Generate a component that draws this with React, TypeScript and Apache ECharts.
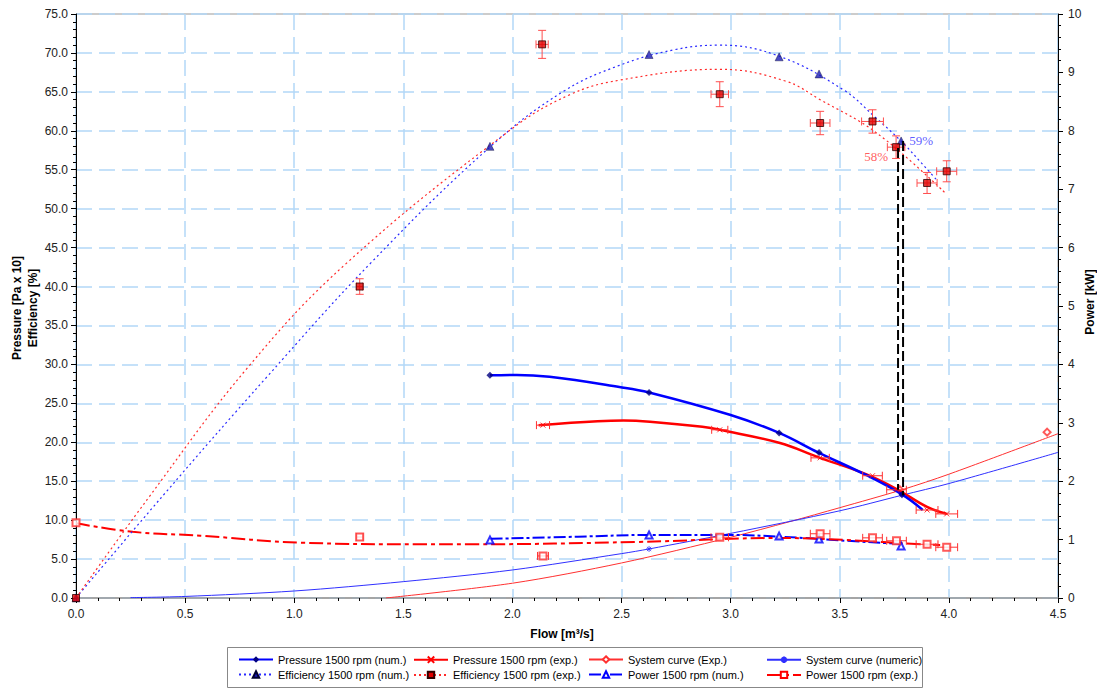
import React, { useEffect, useRef } from 'react';
import * as echarts from 'echarts';

// ---------- data ----------
// Pressure, numerical (fit curve + computed points)
const pressNumFitX = [1.897, 2.02, 2.17, 2.49, 2.626, 3.0, 3.222, 3.4, 3.62, 3.785, 3.88];
const pressNumFitY = [28.6, 28.65, 28.4, 27.1, 26.4, 23.5, 21.2, 18.7, 15.8, 13.3, 11.3];
const pressNumPtX = [1.897, 2.626, 3.222, 3.405, 3.785];
const pressNumPtY = [28.6, 26.4, 21.2, 18.7, 13.3];

// Pressure, experimental
const pressExpFitX = [2.12, 2.39, 2.51, 2.63, 2.87, 2.95, 3.226, 3.4, 3.62, 3.76, 3.9, 3.99];
const pressExpFitY = [22.2, 22.7, 22.8, 22.65, 22.0, 21.6, 19.9, 18.1, 15.9, 14.0, 11.7, 10.8];
const pressExpPtX = [2.14, 2.95, 3.41, 3.65, 3.76, 3.9, 3.99];
const pressExpPtY = [22.2, 21.6, 18.0, 15.7, 13.9, 11.3, 10.8];
const pressExpErrX = [0.03, 0.037, 0.042, 0.045, 0.045, 0.05, 0.05];

// System curves
const sysExpX = [1.42, 2.0, 2.5, 3.0, 3.27, 3.5, 3.785, 4.0, 4.5];
const sysExpY = [0, 1.9, 4.5, 7.8, 9.8, 11.6, 13.9, 15.9, 21.1];
const sysExpPtX = [3.775, 4.45];
const sysExpPtY = [13.9, 21.3];
const sysNumX = [0.25, 0.5, 1.0, 1.5, 2.0, 2.5, 2.626, 3.0, 3.5, 3.785, 4.0, 4.5];
const sysNumY = [0.05, 0.2, 0.9, 2.1, 3.6, 5.7, 6.3, 8.3, 11.2, 13.2, 14.7, 18.7];
const sysNumPtX = [2.626, 3.785];
const sysNumPtY = [6.3, 13.2];

// Efficiency, numerical
const effNumFitX = [0, 0.4, 0.875, 1.35, 1.9, 2.23, 2.49, 2.74, 2.95, 3.22, 3.52, 3.66, 3.78, 3.87, 3.95];
const effNumFitY = [0, 13.2, 28.4, 43.0, 58.0, 65.0, 68.4, 70.4, 71.0, 69.6, 65.2, 61.8, 58.7, 56.0, 53.5];
const effNumPtX = [0, 1.897, 2.626, 3.222, 3.405, 3.781];
const effNumPtY = [0, 58.0, 69.8, 69.5, 67.3, 58.7];

// Efficiency, experimental
const effExpFitX = [0, 0.325, 0.79, 1.24, 1.99, 2.26, 2.49, 2.95, 3.25, 3.41, 3.67, 3.98];
const effExpFitY = [0, 12.6, 29.7, 43.0, 60.1, 64.6, 66.5, 67.9, 66.4, 64.0, 59.7, 52.1];
const effExpPtX = [0, 1.3, 2.136, 2.95, 3.41, 3.65, 3.758, 3.9, 3.99];
const effExpPtY = [0, 40.0, 71.1, 64.7, 61.0, 61.2, 57.9, 53.3, 54.8];
const effExpErrX = [0, 0.015, 0.028, 0.04, 0.045, 0.05, 0.04, 0.046, 0.046];
const effExpErrY = [0, 1.0, 1.8, 1.6, 1.5, 1.5, 1.45, 1.35, 1.35];

// Power [kW], numerical
const powNumFitX = [1.9, 2.3, 2.63, 3.0, 3.23, 3.53, 3.73, 3.78];
const powNumFitY = [1.013, 1.05, 1.08, 1.08, 1.05, 0.98, 0.936, 0.925];
const powNumPtX = [1.897, 2.626, 3.222, 3.405, 3.781];
const powNumPtY = [0.993, 1.08, 1.06, 1.01, 0.89];

// Power [kW], experimental
const powExpFitX = [0, 0.26, 0.57, 1.03, 1.58, 1.81, 2.57, 3.23, 3.53, 3.87, 3.96];
const powExpFitY = [1.28, 1.133, 1.067, 0.947, 0.92, 0.92, 0.96, 1.027, 0.993, 0.92, 0.907];
const powExpPtX = [0, 1.3, 2.14, 2.95, 3.41, 3.65, 3.76, 3.9, 3.99];
const powExpPtY = [1.29, 1.044, 0.72, 1.04, 1.1, 1.03, 0.98, 0.92, 0.87];
const powExpErrX = [0, 0.015, 0.025, 0.04, 0.045, 0.045, 0.045, 0.05, 0.05];

// Operating point markers (vertical dashed lines)
const opX = [3.767, 3.79];
const opTop = [57.8, 58.7];
const opBottom = [13.9, 13.2];
const opLabels = ['58%', '59%'];

// ---------- helpers ----------
const pts = (xs: number[], ys: number[]) => xs.map((x, i) => [x, ys[i]]);
const FONT = 'Liberation Sans';
const BLUE = '#0000ff';
const RED = '#ff0000';
const X_PATH = 'path://M0 0L10 10M10 0L0 10';
const STAR_PATH = 'path://M5 0L5 10M0 5L10 5M1.5 1.5L8.5 8.5M8.5 1.5L1.5 8.5';

const makeErr = (color: string, cap: number) => (_params: any, api: any) => {
  const x = api.value(0);
  const y = api.value(1);
  const ex = api.value(2);
  const ey = api.value(3);
  const st = { stroke: color, lineWidth: 1 };
  const children: any[] = [];
  if (ex > 0) {
    const a = api.coord([x - ex, y]);
    const b = api.coord([x + ex, y]);
    children.push({ type: 'line', shape: { x1: a[0], y1: a[1], x2: b[0], y2: b[1] }, style: st });
    children.push({ type: 'line', shape: { x1: a[0], y1: a[1] - cap, x2: a[0], y2: a[1] + cap }, style: st });
    children.push({ type: 'line', shape: { x1: b[0], y1: b[1] - cap, x2: b[0], y2: b[1] + cap }, style: st });
  }
  if (ey > 0) {
    const a = api.coord([x, y + ey]);
    const b = api.coord([x, y - ey]);
    children.push({ type: 'line', shape: { x1: a[0], y1: a[1], x2: b[0], y2: b[1] }, style: st });
    children.push({ type: 'line', shape: { x1: a[0] - cap, y1: a[1], x2: a[0] + cap, y2: a[1] }, style: st });
    children.push({ type: 'line', shape: { x1: b[0] - cap, y1: b[1], x2: b[0] + cap, y2: b[1] }, style: st });
  }
  return { type: 'group', children };
};

export default function App() {
  const ref = useRef<HTMLDivElement>(null);
  useEffect(() => {
    const chart = echarts.init(ref.current!, null, { renderer: 'svg' });

    const legendCommon = {
      orient: 'vertical',
      top: 654,
      height: 34,
      padding: 0,
      itemWidth: 34,
      itemHeight: 8,
      itemGap: 4,
      selectedMode: false,
      textStyle: { fontFamily: FONT, fontSize: 11, color: '#000' },
    };

    const effNumPts = pts(effNumPtX, effNumPtY).map((p, i) =>
      i === effNumPtX.length - 1
        ? {
            value: p,
            label: {
              show: true,
              formatter: opLabels[1],
              position: 'right',
              distance: 4,
              color: '#3333ff',
              fontFamily: 'Liberation Serif',
              fontSize: 13,
            },
          }
        : { value: p }
    );
    const effExpPts = pts(effExpPtX, effExpPtY).map((p, i) =>
      i === 6
        ? {
            value: p,
            label: {
              show: true,
              formatter: opLabels[0],
              position: 'left',
              distance: 4,
              offset: [0, 9],
              color: '#ff3333',
              fontFamily: 'Liberation Serif',
              fontSize: 13,
            },
          }
        : { value: p }
    );

    const option: any = {
      animation: false,
      backgroundColor: '#fff',
      grid: { left: 76, right: 39, top: 14, bottom: 91, show: true, borderColor: '#999', borderWidth: 1 },
      legend: [
        { ...legendCommon, left: 238, data: ['Pressure 1500 rpm (num.)', 'Efficiency 1500 rpm (num.)'] },
        { ...legendCommon, left: 413, data: ['Pressure 1500 rpm (exp.)', 'Efficiency 1500 rpm (exp.)'] },
        { ...legendCommon, left: 588, data: ['System curve (Exp.)', 'Power 1500 rpm (num.)'] },
        { ...legendCommon, left: 766, data: ['System curve (numeric)', 'Power 1500 rpm (exp.)'] },
      ],
      graphic: [
        {
          type: 'rect',
          shape: { x: 227.5, y: 647.5, width: 695, height: 40 },
          style: { fill: 'none', stroke: '#888', lineWidth: 1 },
          silent: true,
        },
        {
          type: 'text',
          x: 25,
          y: 308,
          rotation: Math.PI / 2,
          style: {
            text: 'Pressure [Pa x 10]\nEfficiency [%]',
            font: 'bold 12px "Liberation Sans"',
            fill: '#000',
            align: 'center',
            verticalAlign: 'middle',
            lineHeight: 16,
          },
        },
        {
          type: 'text',
          x: 1090,
          y: 302,
          rotation: Math.PI / 2,
          style: {
            text: 'Power [kW]',
            font: 'bold 12px "Liberation Sans"',
            fill: '#000',
            align: 'center',
            verticalAlign: 'middle',
          },
        },
        {
          type: 'text',
          x: 562,
          y: 634,
          style: {
            text: 'Flow [m³/s]',
            font: 'bold 12px "Liberation Sans"',
            fill: '#000',
            align: 'center',
            verticalAlign: 'middle',
          },
        },
      ],
      xAxis: {
        type: 'value',
        min: 0,
        max: 4.5,
        interval: 0.5,
        axisLine: { show: true, onZero: false, lineStyle: { color: '#999', width: 1.5 } },
        axisTick: { show: true, length: 5, lineStyle: { color: '#000' } },
        minorTick: { show: true, splitNumber: 5, length: 3, lineStyle: { color: '#000' } },
        axisLabel: {
          formatter: (v: number) => v.toFixed(1),
          margin: 10,
          fontFamily: FONT,
          fontSize: 12,
          color: '#222',
        },
        splitLine: { show: true, lineStyle: { color: '#b3d7f7', type: [16, 7], width: 1.5 } },
      },
      yAxis: [
        {
          type: 'value',
          min: 0,
          max: 75,
          interval: 5,
          position: 'left',
          axisLine: { show: true, onZero: false, lineStyle: { color: '#000', width: 1 } },
          axisTick: { show: true, length: 5, lineStyle: { color: '#000' } },
          minorTick: { show: true, splitNumber: 5, length: 3, lineStyle: { color: '#000' } },
          axisLabel: {
            formatter: (v: number) => v.toFixed(1),
            margin: 8,
            fontFamily: FONT,
            fontSize: 12,
            color: '#222',
          },
          splitLine: { show: true, lineStyle: { color: '#b3d7f7', type: [16, 7], width: 1.5 } },
        },
        {
          type: 'value',
          min: 0,
          max: 10,
          interval: 1,
          position: 'right',
          axisLine: { show: true, onZero: false, lineStyle: { color: '#000', width: 1 } },
          axisTick: { show: true, length: 5, lineStyle: { color: '#000' } },
          minorTick: { show: true, splitNumber: 5, length: 3, lineStyle: { color: '#000' } },
          axisLabel: { margin: 10, fontFamily: FONT, fontSize: 12, color: '#222' },
          splitLine: { show: false },
        },
      ],
      series: [
        // ---- system curves ----
        {
          name: 'System curve (Exp.)',
          type: 'line',
          data: pts(sysExpX, sysExpY),
          smooth: 0.3,
          showSymbol: false,
          symbol: 'emptyDiamond',
          symbolSize: 7,
          lineStyle: { color: '#ff3030', width: 1 },
          itemStyle: { color: '#ff3030' },
          z: 3,
        },
        {
          name: 'sysExpPts',
          type: 'scatter',
          data: pts(sysExpPtX, sysExpPtY),
          symbol: 'emptyDiamond',
          symbolSize: 7,
          itemStyle: { color: '#ff3030', borderWidth: 1 },
          clip: false,
          z: 4,
        },
        {
          name: 'System curve (numeric)',
          type: 'line',
          data: pts(sysNumX, sysNumY),
          smooth: 0.3,
          showSymbol: false,
          symbol: STAR_PATH,
          symbolSize: 7,
          lineStyle: { color: '#3030ff', width: 1 },
          itemStyle: { color: 'none', borderColor: '#3030ff', borderWidth: 1 },
          z: 3,
        },
        {
          name: 'sysNumPts',
          type: 'scatter',
          data: pts(sysNumPtX, sysNumPtY),
          symbol: STAR_PATH,
          symbolSize: 6,
          itemStyle: { color: 'none', borderColor: '#3030ff', borderWidth: 1 },
          clip: false,
          z: 4,
        },
        // ---- power ----
        {
          name: 'Power 1500 rpm (num.)',
          type: 'line',
          yAxisIndex: 1,
          data: pts(powNumFitX, powNumFitY),
          smooth: 0.4,
          showSymbol: false,
          symbol: 'emptyTriangle',
          symbolSize: 7,
          lineStyle: { color: BLUE, width: 2, type: [12, 3, 3, 3] },
          itemStyle: { color: BLUE },
          z: 3,
        },
        {
          name: 'powNumPts',
          type: 'scatter',
          yAxisIndex: 1,
          data: pts(powNumPtX, powNumPtY),
          symbol: 'emptyTriangle',
          symbolSize: 7,
          itemStyle: { color: BLUE, borderWidth: 1 },
          clip: false,
          z: 4,
        },
        {
          name: 'Power 1500 rpm (exp.)',
          type: 'line',
          yAxisIndex: 1,
          data: pts(powExpFitX, powExpFitY),
          smooth: 0.4,
          showSymbol: false,
          symbol: 'emptyRect',
          symbolSize: 7,
          lineStyle: { color: RED, width: 2, type: [14, 4, 4, 4] },
          itemStyle: { color: RED },
          z: 3,
        },
        {
          name: 'powExpErr',
          type: 'custom',
          yAxisIndex: 1,
          renderItem: makeErr('#ff3030', 4),
          data: powExpPtX.map((x, i) => [x, powExpPtY[i], powExpErrX[i], 0]),
          clip: false,
          z: 4,
        },
        {
          name: 'powExpPts',
          type: 'scatter',
          yAxisIndex: 1,
          data: pts(powExpPtX, powExpPtY),
          symbol: 'emptyRect',
          symbolSize: 7,
          itemStyle: { color: '#ff3030', borderWidth: 1 },
          clip: false,
          z: 5,
        },
        // ---- efficiency ----
        {
          name: 'Efficiency 1500 rpm (num.)',
          type: 'line',
          data: pts(effNumFitX, effNumFitY),
          smooth: 0.4,
          showSymbol: false,
          symbol: 'triangle',
          symbolSize: 8,
          lineStyle: { color: '#2a2aff', width: 1.2, type: [2, 3] },
          itemStyle: { color: '#1a1ab4', borderColor: '#000030', borderWidth: 0.5 },
          z: 3,
        },
        {
          name: 'Efficiency 1500 rpm (exp.)',
          type: 'line',
          data: pts(effExpFitX, effExpFitY),
          smooth: 0.4,
          showSymbol: false,
          symbol: 'rect',
          symbolSize: 7,
          lineStyle: { color: '#ff2a2a', width: 1.2, type: [2, 3] },
          itemStyle: { color: '#e00000', borderColor: '#300000', borderWidth: 1 },
          z: 3,
        },
        {
          name: 'effExpErr',
          type: 'custom',
          renderItem: makeErr('#ff4d4d', 4),
          data: effExpPtX.map((x, i) => [x, effExpPtY[i], effExpErrX[i], effExpErrY[i]]),
          clip: false,
          z: 4,
        },
        {
          name: 'effNumPts',
          type: 'scatter',
          data: effNumPts,
          symbol: 'triangle',
          symbolSize: 8,
          itemStyle: { color: '#1a1ab4', borderColor: '#000030', borderWidth: 0.5 },
          clip: false,
          z: 6,
        },
        {
          name: 'effExpPts',
          type: 'scatter',
          data: effExpPts,
          symbol: 'rect',
          symbolSize: 7,
          itemStyle: { color: '#e00000', borderColor: '#300000', borderWidth: 1 },
          clip: false,
          z: 6,
        },
        // ---- pressure ----
        {
          name: 'Pressure 1500 rpm (exp.)',
          type: 'line',
          data: pts(pressExpFitX, pressExpFitY),
          smooth: 0.4,
          showSymbol: false,
          symbol: X_PATH,
          symbolSize: 7,
          lineStyle: { color: RED, width: 2.5 },
          itemStyle: { color: 'none', borderColor: RED, borderWidth: 1 },
          z: 5,
        },
        {
          name: 'pressExpErr',
          type: 'custom',
          renderItem: makeErr('#ff3030', 4),
          data: pressExpPtX.map((x, i) => [x, pressExpPtY[i], pressExpErrX[i], 0]),
          clip: false,
          z: 6,
        },
        {
          name: 'pressExpPts',
          type: 'scatter',
          data: pts(pressExpPtX, pressExpPtY),
          symbol: X_PATH,
          symbolSize: 5,
          itemStyle: { color: 'none', borderColor: RED, borderWidth: 1 },
          clip: false,
          z: 6,
        },
        {
          name: 'Pressure 1500 rpm (num.)',
          type: 'line',
          data: pts(pressNumFitX, pressNumFitY),
          smooth: 0.4,
          showSymbol: false,
          symbol: 'diamond',
          symbolSize: 7,
          lineStyle: { color: BLUE, width: 2.5 },
          itemStyle: { color: '#000080' },
          z: 5,
        },
        {
          name: 'pressNumPts',
          type: 'scatter',
          data: pts(pressNumPtX, pressNumPtY),
          symbol: 'diamond',
          symbolSize: 7,
          itemStyle: { color: '#000080' },
          clip: false,
          z: 6,
        },
        // ---- operating point verticals ----
        ...opX.map((x, i) => ({
          name: 'op' + opLabels[i],
          type: 'line',
          data: [
            [x, opTop[i]],
            [x, opBottom[i]],
          ],
          showSymbol: false,
          symbol: 'none',
          lineStyle: { color: '#000', width: 2, type: [10, 4] },
          z: 7,
        })),
      ],
    };

    chart.setOption(option);
    return () => chart.dispose();
  }, []);

  return (
    <div
      ref={ref}
      style={{ position: 'fixed', left: 0, top: 0, width: 1097, height: 689, background: '#fff' }}
    />
  );
}
